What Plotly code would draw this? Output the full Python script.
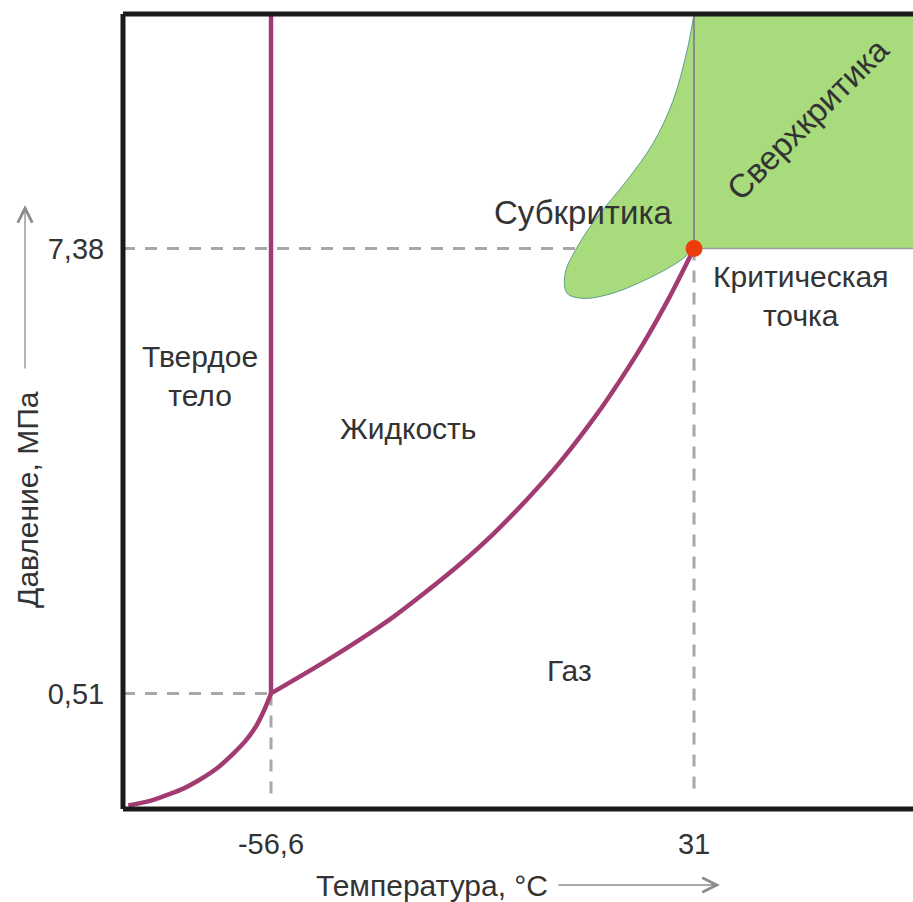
import plotly.graph_objects as go

# ---- data (temperature °C, pressure MPa; schematic diagram) ----
T_triple, P_triple = -56.6, 0.51
T_crit, P_crit = 31.0, 7.38
T_min, T_max = -87.25, 76.35
P_min, P_max = -1.275, 11.0

sub_T = [-86.15, -81.66, -78.2, -74.76, -71.3, -67.85, -64.4, -61.63, -59.56, -57.84, -56.6]
sub_P = [-1.22, -1.15, -1.06, -0.96, -0.82, -0.65, -0.42, -0.20, 0.02, 0.28, 0.51]

vap_T = [-56.6, -45.0, -38.2, -31.1, -24.3, -17.25, -10.6, -3.4, 3.25, 10.3, 13.6, 20.4, 26.0, 31.0]
vap_P = [0.51, 1.02, 1.34, 1.70, 2.09, 2.52, 2.97, 3.52, 4.08, 4.76, 5.11, 5.90, 6.64, 7.38]

melt_T = [-56.6, -56.6]
melt_P = [0.51, 11.0]

blob_T = [31.0, 29.55, 26.65, 22.5, 17.1, 10.9, 6.8, 4.3, 4.7, 8.0, 14.2, 21.9, 28.1, 31.0]
blob_P = [11.0, 10.43, 9.66, 9.00, 8.43, 7.86, 7.40, 6.99, 6.69, 6.61, 6.69, 6.93, 7.19, 7.38]

x_ticks = [-56.6, 31.0]
x_ticktext = ["-56,6", "31"]
y_ticks = [0.51, 7.38]
y_ticktext = ["0,51", "7,38"]

GREEN = "#a8db7c"
MAG = "#a23b72"
GREY_DASH = "#a8a8a8"
TXT = "#333333"
FONT = "Liberation Sans, Arial, sans-serif"

fig = go.Figure()

# dashed guide lines
dash = "12px,10px"
fig.add_trace(go.Scatter(x=[T_min, T_crit], y=[P_crit, P_crit], mode="lines",
                         line=dict(color=GREY_DASH, width=3, dash=dash), hoverinfo="skip"))
fig.add_trace(go.Scatter(x=[T_min, T_triple], y=[P_triple, P_triple], mode="lines",
                         line=dict(color=GREY_DASH, width=3, dash=dash), hoverinfo="skip"))
fig.add_trace(go.Scatter(x=[T_triple, T_triple], y=[P_triple, -1.1], mode="lines",
                         line=dict(color=GREY_DASH, width=3, dash=dash), hoverinfo="skip"))
fig.add_trace(go.Scatter(x=[T_crit, T_crit], y=[P_crit, -1.1], mode="lines",
                         line=dict(color=GREY_DASH, width=3, dash=dash), hoverinfo="skip"))

# supercritical region
fig.add_trace(go.Scatter(x=[T_crit, T_crit, T_max, T_max, T_crit],
                         y=[P_crit, P_max, P_max, P_crit, P_crit],
                         mode="lines", fill="toself", fillcolor=GREEN,
                         line=dict(width=0), hoverinfo="skip"))
# subcritical blob
fig.add_trace(go.Scatter(x=blob_T, y=blob_P, mode="lines", fill="toself",
                         fillcolor=GREEN, line=dict(color="#5f9e8c", width=1, shape="spline"),
                         hoverinfo="skip"))
# grey boundaries of supercritical region
fig.add_trace(go.Scatter(x=[T_crit, T_crit], y=[P_crit, P_max], mode="lines",
                         line=dict(color="#8a8a8a", width=2), hoverinfo="skip"))
fig.add_trace(go.Scatter(x=[T_crit, T_max], y=[P_crit, P_crit], mode="lines",
                         line=dict(color="#9a9a9a", width=1.5), hoverinfo="skip"))

# phase boundaries
fig.add_trace(go.Scatter(x=melt_T, y=melt_P, mode="lines",
                         line=dict(color=MAG, width=4.5), hoverinfo="skip"))
fig.add_trace(go.Scatter(x=sub_T, y=sub_P, mode="lines",
                         line=dict(color=MAG, width=4.5, shape="spline"), hoverinfo="skip"))
fig.add_trace(go.Scatter(x=vap_T, y=vap_P, mode="lines",
                         line=dict(color=MAG, width=4.5, shape="spline"), hoverinfo="skip"))

# critical point
fig.add_trace(go.Scatter(x=[T_crit], y=[P_crit], mode="markers",
                         marker=dict(color="#ee3d0c", size=17, line=dict(width=0)),
                         hoverinfo="skip"))

def lab(text, x, y, size=30, angle=0):
    fig.add_annotation(x=x, y=y, text=text, showarrow=False, textangle=angle,
                       xanchor="center", yanchor="middle",
                       font=dict(family=FONT, size=size, color=TXT), align="center")

lab("Твердое<br>тело", -71.3, 5.41)
lab("Жидкость", -28.2, 4.60)
lab("Газ", 5.3, 0.87)
lab("Субкритика", 8.2, 7.94, size=33)
lab("Критическая<br>точка", 53.0, 6.65, size=30)
lab("Сверхкритика", 54.6, 9.39, size=33, angle=-45)

# axis titles with arrows
fig.add_annotation(xref="paper", yref="paper", x=-0.1203, y=0.390, text="Давление, МПа",
                   textangle=-90, showarrow=False, xanchor="center", yanchor="middle",
                   font=dict(family=FONT, size=30, color=TXT))
fig.add_annotation(xref="paper", yref="paper", x=0.391, y=-0.0956, text="Температура, °C",
                   showarrow=False, xanchor="center", yanchor="middle",
                   font=dict(family=FONT, size=30, color=TXT))
fig.add_annotation(xref="paper", yref="paper", x=-0.124, y=0.7597, text="",
                   showarrow=True, ax=0, ay=165, arrowhead=5, arrowsize=2.2,
                   arrowwidth=1.3, arrowcolor="#8c8c8c")
fig.add_annotation(xref="paper", yref="paper", x=0.7557, y=-0.0956, text="",
                   showarrow=True, ax=-163, ay=0, arrowhead=5, arrowsize=2.2,
                   arrowwidth=1.3, arrowcolor="#8c8c8c")

# frame lines (left, top, bottom)
for x0, y0, x1, y1 in [(0, 0, 0, 1), (0, 1, 1, 1), (0, 0, 1, 0)]:
    fig.add_shape(type="line", xref="paper", yref="paper", x0=x0, y0=y0, x1=x1, y1=y1,
                  line=dict(color="#1a1a1a", width=5))

fig.update_layout(
    width=913, height=902,
    margin=dict(l=123, r=0, t=14, b=93),
    paper_bgcolor="white", plot_bgcolor="white",
    showlegend=False,
    xaxis=dict(range=[T_min, T_max], showgrid=False, zeroline=False, showline=False,
               tickvals=x_ticks, ticktext=x_ticktext, ticks="outside", ticklen=9,
               tickcolor="rgba(0,0,0,0)", automargin=False,
               tickfont=dict(family=FONT, size=29, color=TXT)),
    yaxis=dict(range=[P_min, P_max], showgrid=False, zeroline=False, showline=False,
               tickvals=y_ticks, ticktext=y_ticktext, ticks="outside", ticklen=12,
               tickcolor="rgba(0,0,0,0)", automargin=False,
               tickfont=dict(family=FONT, size=29, color=TXT)),
)

fig.write_html("out.html", config={"displayModeBar": False},
               post_script="document.body.style.margin='0';document.body.style.overflow='hidden';")
